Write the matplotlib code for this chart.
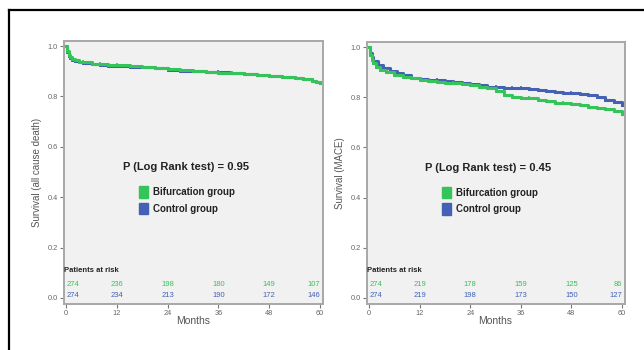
import numpy as np
import matplotlib
matplotlib.use("Agg")
import matplotlib.pyplot as plt
from matplotlib.patches import Rectangle
from matplotlib.lines import Line2D

plt.rcParams["font.family"] = ["Liberation Sans", "DejaVu Sans"]

# --- data ---
months_ticks = [0, 12, 24, 36, 48, 60]

# all cause death
death_bif_t = [0, 0.3, 0.6, 1, 1.5, 2, 3, 4, 6, 8, 10, 12, 15, 18, 21, 24, 27, 30, 33, 36,
               39, 42, 45, 48, 51, 54, 56, 58, 59, 60]
death_bif_s = [1.0, 0.98, 0.965, 0.955, 0.948, 0.943, 0.938, 0.935, 0.93, 0.927, 0.925, 0.924,
               0.92, 0.916, 0.912, 0.908, 0.903, 0.9, 0.897, 0.894, 0.891, 0.889, 0.886, 0.882,
               0.878, 0.874, 0.869, 0.863, 0.858, 0.853]
death_ctl_t = [0, 0.3, 0.6, 1, 1.5, 2, 3, 4, 6, 8, 10, 12, 15, 18, 21, 24, 27, 30, 33, 36,
               39, 42, 45, 48, 51, 54, 56, 58, 59, 60]
death_ctl_s = [1.0, 0.975, 0.96, 0.952, 0.946, 0.941, 0.936, 0.932, 0.927, 0.923, 0.921, 0.92,
               0.918, 0.915, 0.911, 0.906, 0.902, 0.899, 0.897, 0.896, 0.893, 0.89, 0.885, 0.88,
               0.876, 0.873, 0.868, 0.862, 0.857, 0.852]

# MACE
mace_bif_t = [0, 0.3, 0.6, 1, 1.7, 2.5, 4, 6, 8, 10, 12, 14, 16, 18, 20, 22, 24, 26, 28, 30,
              32, 34, 36, 38, 40, 42, 44, 46, 48, 50, 52, 54, 56, 58, 60]
mace_bif_s = [1.0, 0.97, 0.95, 0.935, 0.92, 0.91, 0.9, 0.89, 0.88, 0.875, 0.87, 0.866, 0.862,
              0.858, 0.855, 0.851, 0.848, 0.842, 0.835, 0.825, 0.81, 0.8, 0.798, 0.796, 0.79,
              0.785, 0.778, 0.775, 0.772, 0.768, 0.762, 0.758, 0.752, 0.745, 0.732]
mace_ctl_t = [0, 0.3, 0.6, 1, 2, 3.3, 5, 6.5, 8, 10, 12, 14, 16, 18, 20, 22, 24, 26, 28, 30,
              32, 34, 36, 38, 40, 42, 44, 46, 48, 50, 52, 54, 56, 58, 60]
mace_ctl_s = [1.0, 0.975, 0.96, 0.945, 0.93, 0.918, 0.905, 0.895, 0.887, 0.878, 0.872, 0.87,
              0.868, 0.864, 0.86, 0.857, 0.854, 0.848, 0.842, 0.84, 0.838, 0.837, 0.835, 0.832,
              0.828, 0.826, 0.82, 0.818, 0.815, 0.813, 0.81, 0.8, 0.79, 0.782, 0.768]

death_risk_bif = [274, 236, 198, 180, 149, 107]
death_risk_ctl = [274, 234, 213, 190, 172, 146]
mace_risk_bif = [274, 219, 178, 159, 125, 86]
mace_risk_ctl = [274, 219, 198, 173, 150, 127]

green = "#35c45a"
blue = "#4461b5"

fig = plt.figure(figsize=(6.44, 3.5), dpi=100)
fig.patch.set_facecolor("white")

# black frame on top and left of the picture
fig.add_artist(Line2D([8.5 / 644, 8.5 / 644], [0, 1 - 10 / 350], color="black", lw=1.6))
fig.add_artist(Line2D([8.5 / 644, 1], [1 - 10 / 350, 1 - 10 / 350], color="black", lw=1.6))


def panel(rect, ylabel, bif_t, bif_s, ctl_t, ctl_s, pval, risk_bif, risk_ctl):
    ax = fig.add_axes(rect)
    ax.set_facecolor("#f1f1f1")
    for sp in ax.spines.values():
        sp.set_color("#a8a8a8")
        sp.set_linewidth(1.4)

    for t, s, c, z in [(ctl_t, ctl_s, blue, 2), (bif_t, bif_s, green, 3)]:
        ax.step(t, s, where="post", color=c, lw=2.2, zorder=z)
        ax.plot(t[1:], s[1:], ls="none", marker="|", ms=3.5, mew=1.2, color=c, zorder=z)

    ax.set_xlim(-0.5, 60.7)
    ax.set_ylim(-0.024, 1.02)
    ax.set_xticks(months_ticks)
    ax.set_yticks([0.0, 0.2, 0.4, 0.6, 0.8, 1.0])
    ax.set_yticklabels(["0.0", "0.2", "0.4", "0.6", "0.8", "1.0"])
    ax.tick_params(labelsize=5.3, colors="#777777", length=3, width=0.8, pad=1.5,
                   labelcolor="#666666")
    ax.set_ylabel(ylabel, fontsize=7, color="#555555", labelpad=4)
    ax.text(30, -0.064, "Months", transform=ax.get_xaxis_transform(), ha="center",
            va="center", fontsize=7.5, color="#555555")

    ax.text(0.47, 0.52, "P (Log Rank test) = " + pval, transform=ax.transAxes,
            ha="center", va="center", fontsize=8, fontweight="bold", color="#222222")
    for i, (lab, c) in enumerate([("Bifurcation group", green), ("Control group", blue)]):
        y = 0.425 - i * 0.062
        ax.add_patch(Rectangle((0.29, y - 0.022), 0.036, 0.044, transform=ax.transAxes,
                               color=c, zorder=4))
        ax.text(0.345, y, lab, transform=ax.transAxes, ha="left", va="center",
                fontsize=7, fontweight="bold", color="#222222")

    ax.text(0.0, 0.11, "Patients at risk", transform=ax.get_yaxis_transform(),
            ha="left", va="center", fontsize=5.5, fontweight="bold", color="#222222")
    for row, (vals, c) in enumerate([(risk_bif, green), (risk_ctl, blue)]):
        y = 0.052 - row * 0.043
        for j, (m, v) in enumerate(zip(months_ticks, vals)):
            ha = "left" if j == 0 else ("right" if j == len(vals) - 1 else "center")
            ax.text(m, y, str(v), ha=ha, va="center", fontsize=5.5, color=c)
    return ax


panel([64 / 644, 46 / 350, 259 / 644, 263 / 350], "Survival (all cause death)",
      death_bif_t, death_bif_s, death_ctl_t, death_ctl_s, "0.95",
      death_risk_bif, death_risk_ctl)
panel([367 / 644, 46 / 350, 258 / 644, 262 / 350], "Survival (MACE)",
      mace_bif_t, mace_bif_s, mace_ctl_t, mace_ctl_s, "0.45",
      mace_risk_bif, mace_risk_ctl)

fig.savefig("out.png", dpi=100)
